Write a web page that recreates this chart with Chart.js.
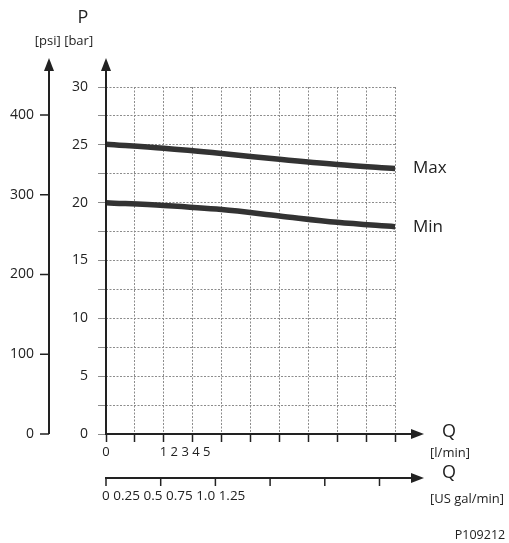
<!DOCTYPE html>
<html>
<head>
<meta charset="utf-8">
<script src="https://cdn.jsdelivr.net/npm/chart.js@4"></script>
<style>
  html, body { margin: 0; padding: 0; background: #fff; }
  canvas { display: block; }
</style>
</head>
<body>
<canvas id="chart" width="509" height="543"></canvas>
<script>
// flow in l/min, pressure in bar
const flowLpm = [0, 1, 2, 3, 4, 5];
const maxBar = [25.05, 24.7, 24.25, 23.75, 23.3, 22.95];
const minBar = [20.0, 19.75, 19.4, 18.85, 18.3, 17.92];

const barLabels = [0, 5, 10, 15, 20, 25, 30];
const psiTicks = [0, 100, 200, 300, 400];
const lpmLabels = ["0", "1 2 3 4 5"];
const galTicks = [0, 0.25, 0.5, 0.75, 1.0, 1.25];
const galLabels = ["0", "0.25", "0.5", "0.75", "1.0", "1.25"];

const BAR_TO_PSI = 14.5038;
const L_PER_GAL = 3.78541;
const FONT = '"Open Sans", "Noto Sans", sans-serif';
const INK = "#222";

function arrow(ctx, x, y, dir) {
  // dir: 'up' or 'right', (x, y) is the tip
  ctx.beginPath();
  if (dir === "up") {
    ctx.moveTo(x, y);
    ctx.lineTo(x - 5, y + 13);
    ctx.lineTo(x + 5, y + 13);
  } else {
    ctx.moveTo(x, y);
    ctx.lineTo(x - 13, y - 5);
    ctx.lineTo(x - 13, y + 5);
  }
  ctx.closePath();
  ctx.fill();
}

const decor = {
  id: "decor",
  afterDraw(chart) {
    const { ctx } = chart;
    const xs = chart.scales.x, ys = chart.scales.y;
    const psi = chart.scales.psi, gal = chart.scales.gal;
    const x0 = xs.getPixelForValue(0);
    const y0 = ys.getPixelForValue(0);
    const tipY = 58, tipX = 424;
    ctx.save();
    ctx.strokeStyle = INK;
    ctx.fillStyle = INK;
    ctx.lineWidth = 2;

    // bar axis
    ctx.beginPath();
    ctx.moveTo(x0, y0 + 1);
    ctx.lineTo(x0, tipY + 8);
    ctx.stroke();
    arrow(ctx, x0, tipY, "up");

    // l/min axis
    ctx.beginPath();
    ctx.moveTo(x0 - 1, y0);
    ctx.lineTo(tipX - 8, y0);
    ctx.stroke();
    arrow(ctx, tipX, y0, "right");

    // psi axis
    const px = 49;
    ctx.beginPath();
    ctx.moveTo(px, psi.getPixelForValue(0));
    ctx.lineTo(px, tipY + 8);
    ctx.stroke();
    arrow(ctx, px, tipY, "up");
    ctx.lineWidth = 1.5;
    ctx.font = "14px " + FONT;
    ctx.textAlign = "right";
    ctx.textBaseline = "middle";
    psiTicks.forEach(v => {
      const py = psi.getPixelForValue(v);
      ctx.beginPath();
      ctx.moveTo(px - 9, py);
      ctx.lineTo(px, py);
      ctx.stroke();
      ctx.fillText(String(v), px - 15, py);
    });

    // US gal/min axis
    const gy = 478;
    ctx.lineWidth = 2;
    ctx.beginPath();
    ctx.moveTo(gal.getPixelForValue(0) - 1, gy);
    ctx.lineTo(tipX - 8, gy);
    ctx.stroke();
    arrow(ctx, tipX, gy, "right");
    ctx.lineWidth = 1.5;
    galTicks.forEach(v => {
      const gx = gal.getPixelForValue(v);
      ctx.beginPath();
      ctx.moveTo(gx, gy);
      ctx.lineTo(gx, gy + 8);
      ctx.stroke();
    });
    ctx.font = "13.5px " + FONT;
    ctx.textAlign = "left";
    ctx.fillText(galLabels.join(" "), gal.getPixelForValue(galTicks[0]) - 4, 496);

    // l/min tick labels (as printed, bunched after 1)
    ctx.font = "13px " + FONT;
    ctx.textAlign = "center";
    ctx.fillText(lpmLabels[0], xs.getPixelForValue(0), 452);
    ctx.textAlign = "left";
    ctx.fillText(lpmLabels[1], xs.getPixelForValue(1) - 4, 452);

    // axis titles
    ctx.textAlign = "center";
    ctx.font = "18px " + FONT;
    ctx.fillText("P", 83, 18);
    ctx.font = "13px " + FONT;
    ctx.fillText("[psi] [bar]", 64, 41);
    ctx.font = "18px " + FONT;
    ctx.fillText("Q", 449, 432);
    ctx.fillText("Q", 449, 473);
    ctx.font = "13px " + FONT;
    ctx.fillText("[l/min]", 450, 453);
    ctx.fillText("[US gal/min]", 467, 499);
    ctx.font = "12.5px " + FONT;
    ctx.fillText("P109212", 480, 535);

    // curve names
    ctx.font = "17px " + FONT;
    ctx.textAlign = "left";
    const last = flowLpm.length - 1;
    ctx.fillText("Max", 413, ys.getPixelForValue(maxBar[last]));
    ctx.fillText("Min", 413, ys.getPixelForValue(minBar[last]));
    ctx.restore();
  }
};

new Chart(document.getElementById("chart"), {
  type: "line",
  data: {
    datasets: [
      {
        label: "Max",
        data: flowLpm.map((q, i) => ({ x: q, y: maxBar[i] })),
        borderColor: "#333",
        borderWidth: 5.5,
        pointRadius: 0,
        tension: 0.3,
        cubicInterpolationMode: "monotone",
        borderCapStyle: "round"
      },
      {
        label: "Min",
        data: flowLpm.map((q, i) => ({ x: q, y: minBar[i] })),
        borderColor: "#333",
        borderWidth: 5.5,
        pointRadius: 0,
        tension: 0.3,
        cubicInterpolationMode: "monotone",
        borderCapStyle: "round"
      }
    ]
  },
  options: {
    responsive: false,
    animation: false,
    layout: { padding: { top: 87, right: 114, left: 0, bottom: 0 } },
    plugins: { legend: { display: false }, tooltip: { enabled: false } },
    scales: {
      x: {
        type: "linear",
        min: 0,
        max: 5,
        ticks: { stepSize: 0.5, display: false },
        grid: {
          color: "#8c8c8c",
          lineWidth: 1,
          tickLength: 8,
          tickColor: INK,
          tickWidth: 1.5
        },
        border: { display: false, dash: [2, 1.5] },
        afterFit: s => { s.height = 109; }
      },
      gal: {
        type: "linear",
        position: "bottom",
        display: false,
        min: 0,
        max: 5 / L_PER_GAL
      },
      y: {
        min: 0,
        max: 30,
        ticks: {
          stepSize: 2.5,
          padding: 10,
          color: INK,
          font: { size: 14, family: FONT },
          callback: v => barLabels.includes(v) ? String(v) : ""
        },
        grid: {
          color: "#8c8c8c",
          lineWidth: 1,
          tickLength: 8,
          tickColor: "#8c8c8c",
          tickWidth: 1
        },
        border: { display: false, dash: [2, 1.5] },
        afterFit: s => { s.width = 106; }
      },
      psi: {
        type: "linear",
        position: "left",
        display: false,
        min: 0,
        max: 30 * BAR_TO_PSI
      }
    }
  },
  plugins: [decor]
});
</script>
</body>
</html>
